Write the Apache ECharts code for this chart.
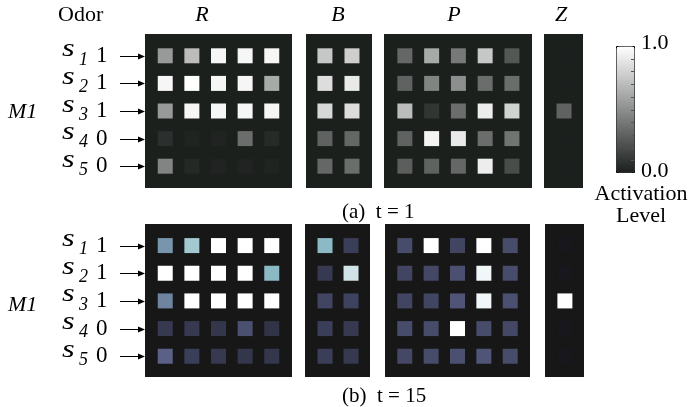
<!DOCTYPE html>
<html>
<head>
<meta charset="utf-8">
<script src="https://cdn.jsdelivr.net/npm/echarts@6/dist/echarts.min.js"></script>
<style>html,body{margin:0;padding:0;background:#fff}#c{width:695px;height:407px}</style>
</head>
<body>
<div id="c"></div>
<script>
// ---- data ----
const rowSubs = ['1', '2', '3', '4', '5'];
const odorValues = ['1', '1', '1', '0', '0'];
const panelNames = ['R', 'B', 'P', 'Z'];
const captions = ['(a)  t = 1', '(b)  t = 15'];
const colorbarTicks = ['1.0', '0.0'];

// t = 1 activation levels (rows s1..s5)
const rA = [
  [0.55, 0.70, 0.96, 0.96, 0.96],
  [0.96, 1.00, 0.96, 0.96, 0.62],
  [0.55, 0.96, 0.96, 0.96, 0.96],
  [0.07, 0.02, 0.02, 0.35, 0.05],
  [0.45, 0.04, 0.02, 0.02, 0.02]
];
const bA = [
  [0.75, 0.78],
  [0.85, 0.90],
  [0.82, 0.85],
  [0.30, 0.32],
  [0.32, 0.35]
];
const pA = [
  [0.32, 0.62, 0.40, 0.75, 0.25],
  [0.30, 0.45, 0.50, 0.35, 0.35],
  [0.70, 0.10, 0.35, 0.92, 0.80],
  [0.30, 0.95, 0.90, 0.35, 0.38],
  [0.28, 0.30, 0.32, 0.92, 0.20]
];
const zA = [[0], [0], [0.30], [0], [0]];

// t = 15 activation levels
const rB = [
  [0.65, 0.80, 1.00, 1.00, 1.00],
  [1.00, 1.00, 1.00, 1.00, 0.75],
  [0.60, 1.00, 1.00, 1.00, 1.00],
  [0.22, 0.22, 0.20, 0.38, 0.18],
  [0.50, 0.25, 0.22, 0.20, 0.20]
];
const bB = [
  [0.75, 0.25],
  [0.22, 0.90],
  [0.30, 0.28],
  [0.25, 0.22],
  [0.25, 0.22]
];
const pB = [
  [0.35, 1.00, 0.30, 1.00, 0.35],
  [0.30, 0.32, 0.38, 0.97, 0.35],
  [0.30, 0.30, 0.42, 0.97, 0.38],
  [0.35, 0.35, 1.00, 0.35, 0.32],
  [0.32, 0.35, 0.38, 0.42, 0.35]
];
const zB = [[0], [0], [1.00], [0], [0]];

// ---- layout ----
const FONT = '"Liberation Serif", "DejaVu Serif", serif';
const panelsA = [
  { m: rA, left: 145, width: 147, xmin: -0.76, xmax: 4.76 },
  { m: bA, left: 306, width: 66, xmin: -0.70, xmax: 1.74 },
  { m: pA, left: 384, width: 148, xmin: -0.78, xmax: 4.75 },
  { m: zA, left: 544, width: 39, xmin: -0.75, xmax: 0.71 }
];
const panelsB = [
  { m: rB, left: 145, width: 147, xmin: -0.76, xmax: 4.76 },
  { m: bB, left: 305, width: 65, xmin: -0.77, xmax: 1.73 },
  { m: pB, left: 385, width: 145, xmin: -0.75, xmax: 4.75 },
  { m: zB, left: 545, width: 39, xmin: -0.75, xmax: 0.72 }
];
const rowsA = { top: 34, height: 154, ymin: -0.79, ymax: 4.79, bg: '#1b201d' };
const rowsB = { top: 224, height: 153, ymin: -0.78, ymax: 4.75, bg: '#171717' };

const grid = [], xAxis = [], yAxis = [], series = [];
const seriesA = [], seriesB = [];
const labelGrids = [];

function addBlock(panels, rows) {
  panels.forEach((p, k) => {
    const gi = grid.length;
    if (k === 0) labelGrids.push({ gi: gi, xmin: p.xmin });
    grid.push({ left: p.left, top: rows.top, width: p.width, height: rows.height,
      show: true, backgroundColor: rows.bg, borderWidth: 0, containLabel: false });
    xAxis.push({ type: 'value', gridIndex: gi, min: p.xmin, max: p.xmax, show: false });
    yAxis.push({ type: 'value', gridIndex: gi, min: rows.ymin, max: rows.ymax,
      inverse: true, show: false });
    const data = [];
    p.m.forEach((row, r) => row.forEach((v, c) => data.push([c, r, v])));
    series.push({ type: 'scatter', xAxisIndex: gi, yAxisIndex: gi, symbol: 'rect',
      symbolSize: 15, data: data, silent: true, animation: false,
      itemStyle: { opacity: 1 } });
    (rows === rowsA ? seriesA : seriesB).push(series.length - 1);
  });
}
addBlock(panelsA, rowsA);
addBlock(panelsB, rowsB);

const textStyle = (extra) => Object.assign({ fontFamily: FONT, fontSize: 22, fill: '#000' }, extra);
const graphic = [
  { type: 'text', x: 58, y: 15, style: textStyle({ text: 'Odor', verticalAlign: 'middle' }) },
  { type: 'text', x: 202, y: 15, style: textStyle({ text: panelNames[0], fontStyle: 'italic', align: 'center', verticalAlign: 'middle' }) },
  { type: 'text', x: 338, y: 15, style: textStyle({ text: panelNames[1], fontStyle: 'italic', align: 'center', verticalAlign: 'middle' }) },
  { type: 'text', x: 454, y: 15, style: textStyle({ text: panelNames[2], fontStyle: 'italic', align: 'center', verticalAlign: 'middle' }) },
  { type: 'text', x: 561, y: 15, style: textStyle({ text: panelNames[3], fontStyle: 'italic', align: 'center', verticalAlign: 'middle' }) },
  { type: 'text', x: 8, y: 112, style: textStyle({ text: 'M1', fontStyle: 'italic', verticalAlign: 'middle' }) },
  { type: 'text', x: 8, y: 305, style: textStyle({ text: 'M1', fontStyle: 'italic', verticalAlign: 'middle' }) },
  { type: 'text', x: 342, y: 212, style: textStyle({ text: captions[0], fontSize: 21, verticalAlign: 'middle' }) },
  { type: 'text', x: 342, y: 396, style: textStyle({ text: captions[1], fontSize: 21, verticalAlign: 'middle' }) },
  { type: 'text', x: 641, y: 43, style: textStyle({ text: colorbarTicks[0], verticalAlign: 'middle' }) },
  { type: 'text', x: 641, y: 171, style: textStyle({ text: colorbarTicks[1], verticalAlign: 'middle' }) },
  { type: 'text', x: 641, y: 194, style: textStyle({ text: 'Activation', align: 'center', verticalAlign: 'middle' }) },
  { type: 'text', x: 641, y: 216, style: textStyle({ text: 'Level', align: 'center', verticalAlign: 'middle' }) }
];
// small tick marks inside the colour bar
for (let k = 1; k < 10; k++) {
  const y = Math.round(46 + 127 * k / 10) + 0.5;
  graphic.push({ type: 'line', z: 200, shape: { x1: 631, y1: y, x2: 634, y2: y },
    style: { stroke: '#555', lineWidth: 1 } });
}

const chart = echarts.init(document.getElementById('c'), null, { renderer: 'canvas' });
chart.setOption({
  animation: false,
  backgroundColor: '#fff',
  grid, xAxis, yAxis, series, graphic,
  visualMap: [
    { type: 'continuous', show: true, min: 0, max: 1, dimension: 2, seriesIndex: seriesA,
      left: 616, top: 46, itemWidth: 18, itemHeight: 126, padding: 0,
      borderColor: '#000', borderWidth: 1, calculable: false, hoverLink: false,
      text: null, inRange: { color: ['#1b1f1d', '#ffffff'] } },
    { type: 'continuous', show: false, min: 0, max: 1, dimension: 2, seriesIndex: seriesB,
      inRange: { color: ['#17171d', '#3b3e58', '#5a6086', '#8cbac4', '#ffffff'] } }
  ]
});

// row labels and arrows, positioned through the grids' own scales
const extra = [];
labelGrids.forEach((lg) => {
  rowSubs.forEach((sub, r) => {
    const pt = chart.convertToPixel({ gridIndex: lg.gi }, [lg.xmin, r]);
    const px = pt[0], py = pt[1];
    extra.push({ type: 'text', x: 62, y: py - 6, scaleX: 1.3,
      style: textStyle({ text: 's', fontStyle: 'italic', fontSize: 25, verticalAlign: 'middle' }) });
    extra.push({ type: 'text', x: 79, y: py + 4,
      style: textStyle({ text: sub, fontStyle: 'italic', fontSize: 18, verticalAlign: 'middle' }) });
    extra.push({ type: 'text', x: 96, y: py,
      style: textStyle({ text: odorValues[r], fontSize: 23, verticalAlign: 'middle' }) });
    const ly = Math.round(py) + 0.5;
    extra.push({ type: 'line', shape: { x1: 120, y1: ly, x2: px - 5, y2: ly },
      style: { stroke: '#000', lineWidth: 1 } });
    extra.push({ type: 'polygon', shape: { points: [[px - 7, ly - 3], [px, ly], [px - 7, ly + 3]] },
      style: { fill: '#000' } });
  });
});
chart.setOption({ graphic: graphic.concat(extra) });
</script>
</body>
</html>
